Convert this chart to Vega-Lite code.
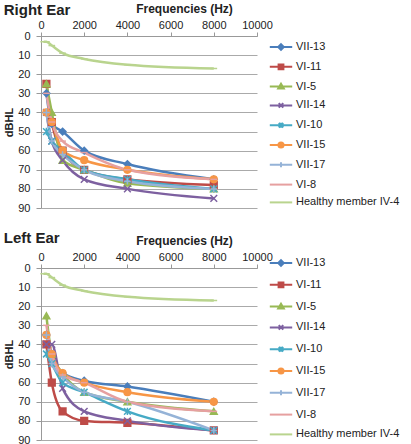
{
  "$schema": "https://vega.github.io/schema/vega-lite/v6.json",
  "padding": {"left": 3, "top": 2, "right": 0, "bottom": 0},
  "background": "white",
  "config": {
    "font": "Liberation Sans",
    "view": {"stroke": null},
    "axis": {"labelFont": "Liberation Sans", "labelFontSize": 11, "labelColor": "#222", "domainColor": "#999", "tickColor": "#999", "gridColor": "#aaa", "titleFont": "Liberation Sans", "titleFontSize": 12, "titleFontWeight": "bold", "titleColor": "#222"},
    "legend": {"labelFont": "Liberation Sans", "labelFontSize": 11, "labelColor": "#222", "symbolSize": 256, "labelOffset": 6, "padding": 0, "symbolStrokeWidth": 2},
    "title": {"font": "Liberation Sans", "fontSize": 15, "fontWeight": "bold", "color": "#222"}
  },
  "data": {"values": [
    {"ear": "R", "series": "VII-13", "freq": 250, "db": 30}, {"ear": "R", "series": "VII-13", "freq": 500, "db": 46}, {"ear": "R", "series": "VII-13", "freq": 1000, "db": 50}, {"ear": "R", "series": "VII-13", "freq": 2000, "db": 60}, {"ear": "R", "series": "VII-13", "freq": 4000, "db": 67}, {"ear": "R", "series": "VII-13", "freq": 8000, "db": 75},
    {"ear": "R", "series": "VI-11", "freq": 250, "db": 25}, {"ear": "R", "series": "VI-11", "freq": 500, "db": 45}, {"ear": "R", "series": "VI-11", "freq": 1000, "db": 60}, {"ear": "R", "series": "VI-11", "freq": 2000, "db": 70}, {"ear": "R", "series": "VI-11", "freq": 4000, "db": 75}, {"ear": "R", "series": "VI-11", "freq": 8000, "db": 78},
    {"ear": "R", "series": "VI-5", "freq": 250, "db": 25}, {"ear": "R", "series": "VI-5", "freq": 500, "db": 40}, {"ear": "R", "series": "VI-5", "freq": 1000, "db": 65}, {"ear": "R", "series": "VI-5", "freq": 2000, "db": 70}, {"ear": "R", "series": "VI-5", "freq": 4000, "db": 77}, {"ear": "R", "series": "VI-5", "freq": 8000, "db": 80},
    {"ear": "R", "series": "VII-14", "freq": 250, "db": 40}, {"ear": "R", "series": "VII-14", "freq": 500, "db": 55}, {"ear": "R", "series": "VII-14", "freq": 1000, "db": 65}, {"ear": "R", "series": "VII-14", "freq": 2000, "db": 75}, {"ear": "R", "series": "VII-14", "freq": 4000, "db": 80}, {"ear": "R", "series": "VII-14", "freq": 8000, "db": 85},
    {"ear": "R", "series": "VI-10", "freq": 250, "db": 50}, {"ear": "R", "series": "VI-10", "freq": 500, "db": 55}, {"ear": "R", "series": "VI-10", "freq": 1000, "db": 60}, {"ear": "R", "series": "VI-10", "freq": 2000, "db": 70}, {"ear": "R", "series": "VI-10", "freq": 4000, "db": 75}, {"ear": "R", "series": "VI-10", "freq": 8000, "db": 80},
    {"ear": "R", "series": "VII-15", "freq": 250, "db": 40}, {"ear": "R", "series": "VII-15", "freq": 500, "db": 45}, {"ear": "R", "series": "VII-15", "freq": 1000, "db": 60}, {"ear": "R", "series": "VII-15", "freq": 2000, "db": 65}, {"ear": "R", "series": "VII-15", "freq": 4000, "db": 70}, {"ear": "R", "series": "VII-15", "freq": 8000, "db": 75},
    {"ear": "R", "series": "VII-17", "freq": 250, "db": 40}, {"ear": "R", "series": "VII-17", "freq": 500, "db": 55}, {"ear": "R", "series": "VII-17", "freq": 1000, "db": 62}, {"ear": "R", "series": "VII-17", "freq": 2000, "db": 70}, {"ear": "R", "series": "VII-17", "freq": 4000, "db": 76}, {"ear": "R", "series": "VII-17", "freq": 8000, "db": 80},
    {"ear": "R", "series": "VI-8", "freq": 250, "db": 30}, {"ear": "R", "series": "VI-8", "freq": 500, "db": 45}, {"ear": "R", "series": "VI-8", "freq": 1000, "db": 55}, {"ear": "R", "series": "VI-8", "freq": 2000, "db": 61}, {"ear": "R", "series": "VI-8", "freq": 4000, "db": 70}, {"ear": "R", "series": "VI-8", "freq": 8000, "db": 75},
    {"ear": "R", "series": "Healthy member IV-4", "freq": 125, "db": 3}, {"ear": "R", "series": "Healthy member IV-4", "freq": 250, "db": 3}, {"ear": "R", "series": "Healthy member IV-4", "freq": 500, "db": 5}, {"ear": "R", "series": "Healthy member IV-4", "freq": 1000, "db": 9}, {"ear": "R", "series": "Healthy member IV-4", "freq": 2000, "db": 12}, {"ear": "R", "series": "Healthy member IV-4", "freq": 4000, "db": 15}, {"ear": "R", "series": "Healthy member IV-4", "freq": 8000, "db": 17},
    {"ear": "L", "series": "VII-13", "freq": 250, "db": 35}, {"ear": "L", "series": "VII-13", "freq": 500, "db": 45}, {"ear": "L", "series": "VII-13", "freq": 1000, "db": 55}, {"ear": "L", "series": "VII-13", "freq": 2000, "db": 59}, {"ear": "L", "series": "VII-13", "freq": 4000, "db": 62}, {"ear": "L", "series": "VII-13", "freq": 8000, "db": 70},
    {"ear": "L", "series": "VI-11", "freq": 250, "db": 40}, {"ear": "L", "series": "VI-11", "freq": 500, "db": 60}, {"ear": "L", "series": "VI-11", "freq": 1000, "db": 75}, {"ear": "L", "series": "VI-11", "freq": 2000, "db": 80}, {"ear": "L", "series": "VI-11", "freq": 4000, "db": 81}, {"ear": "L", "series": "VI-11", "freq": 8000, "db": 85},
    {"ear": "L", "series": "VI-5", "freq": 250, "db": 25}, {"ear": "L", "series": "VI-5", "freq": 500, "db": 45}, {"ear": "L", "series": "VI-5", "freq": 1000, "db": 55}, {"ear": "L", "series": "VI-5", "freq": 2000, "db": 65}, {"ear": "L", "series": "VI-5", "freq": 4000, "db": 70}, {"ear": "L", "series": "VI-5", "freq": 8000, "db": 75},
    {"ear": "L", "series": "VII-14", "freq": 250, "db": 40}, {"ear": "L", "series": "VII-14", "freq": 500, "db": 40}, {"ear": "L", "series": "VII-14", "freq": 1000, "db": 63}, {"ear": "L", "series": "VII-14", "freq": 2000, "db": 75}, {"ear": "L", "series": "VII-14", "freq": 4000, "db": 80}, {"ear": "L", "series": "VII-14", "freq": 8000, "db": 85},
    {"ear": "L", "series": "VI-10", "freq": 250, "db": 45}, {"ear": "L", "series": "VI-10", "freq": 500, "db": 50}, {"ear": "L", "series": "VI-10", "freq": 1000, "db": 60}, {"ear": "L", "series": "VI-10", "freq": 2000, "db": 65}, {"ear": "L", "series": "VI-10", "freq": 4000, "db": 75}, {"ear": "L", "series": "VI-10", "freq": 8000, "db": 85},
    {"ear": "L", "series": "VII-15", "freq": 250, "db": 35}, {"ear": "L", "series": "VII-15", "freq": 500, "db": 45}, {"ear": "L", "series": "VII-15", "freq": 1000, "db": 55}, {"ear": "L", "series": "VII-15", "freq": 2000, "db": 60}, {"ear": "L", "series": "VII-15", "freq": 4000, "db": 65}, {"ear": "L", "series": "VII-15", "freq": 8000, "db": 70},
    {"ear": "L", "series": "VII-17", "freq": 250, "db": 35}, {"ear": "L", "series": "VII-17", "freq": 500, "db": 50}, {"ear": "L", "series": "VII-17", "freq": 1000, "db": 57}, {"ear": "L", "series": "VII-17", "freq": 2000, "db": 65}, {"ear": "L", "series": "VII-17", "freq": 4000, "db": 70}, {"ear": "L", "series": "VII-17", "freq": 8000, "db": 85},
    {"ear": "L", "series": "VI-8", "freq": 250, "db": 30}, {"ear": "L", "series": "VI-8", "freq": 500, "db": 45}, {"ear": "L", "series": "VI-8", "freq": 1000, "db": 56}, {"ear": "L", "series": "VI-8", "freq": 2000, "db": 60}, {"ear": "L", "series": "VI-8", "freq": 4000, "db": 70}, {"ear": "L", "series": "VI-8", "freq": 8000, "db": 75},
    {"ear": "L", "series": "Healthy member IV-4", "freq": 125, "db": 3}, {"ear": "L", "series": "Healthy member IV-4", "freq": 250, "db": 3}, {"ear": "L", "series": "Healthy member IV-4", "freq": 500, "db": 5}, {"ear": "L", "series": "Healthy member IV-4", "freq": 1000, "db": 9}, {"ear": "L", "series": "Healthy member IV-4", "freq": 2000, "db": 12}, {"ear": "L", "series": "Healthy member IV-4", "freq": 4000, "db": 15}, {"ear": "L", "series": "Healthy member IV-4", "freq": 8000, "db": 17}
  ]},
  "spacing": 18,
  "resolve": {"legend": {"color": "independent"}},
  "vconcat": [
    {
      "title": {"text": "Right Ear", "anchor": "start", "frame": "bounds", "offset": -16},
      "width": 216, "height": 172,
      "transform": [{"filter": "datum.ear === 'R'"}],
      "encoding": {
        "x": {"field": "freq", "type": "quantitative", "scale": {"domain": [0, 10000], "nice": false}, "axis": {"orient": "top", "values": [0, 2000, 4000, 6000, 8000, 10000], "format": "d", "labelOverlap": false, "labelFlush": false, "labelBound": false, "grid": false, "tickSize": 4, "labelPadding": 2, "title": "Frequencies (Hz)", "titleX": 143, "titleY": -28, "titleAlign": "center", "titleBaseline": "middle"}},
        "y": {"field": "db", "type": "quantitative", "scale": {"domain": [0, 90], "reverse": true, "nice": false}, "axis": {"values": [0, 10, 20, 30, 40, 50, 60, 70, 80, 90], "tickSize": 5, "labelPadding": 6, "title": "dBHL", "titleFontSize": 11, "titlePadding": 3}},
        "color": {"field": "series", "type": "nominal",
          "scale": {"domain": ["VII-13", "VI-11", "VI-5", "VII-14", "VI-10", "VII-15", "VII-17", "VI-8", "Healthy member IV-4"], "range": ["#4A7EBB", "#BE4B48", "#98B954", "#7D60A0", "#46AAC5", "#F79646", "#95B3D7", "#E6A0A0", "#B9D48E"]},
          "legend": {"title": null, "orient": "none", "legendX": 231, "legendY": 2, "rowPadding": 3.8,
            "encode": {"symbols": {"update": {
              "shape": {"signal": "['M-1.4,0L1.4,0M0,-0.35L0.35,0L0,0.35L-0.35,0Z','M-1.4,0L1.4,0M-0.3,-0.3L0.3,-0.3L0.3,0.3L-0.3,0.3Z','M-1.4,0L1.4,0M0,-0.35L0.35,0.25L-0.35,0.25Z','M-1.4,0L1.4,0M-0.28,-0.28L0.28,0.28M-0.28,0.28L0.28,-0.28','M-1.4,0L1.4,0M-0.28,-0.28L0.28,0.28M-0.28,0.28L0.28,-0.28M0,-0.32L0,0.32','M-1.4,0L1.4,0M-0.32,0A0.32,0.32 0 1,0 0.32,0A0.32,0.32 0 1,0 -0.32,0Z','M-1.4,0L1.4,0M0,-0.32L0,0.32','M-1.4,0L1.4,0','M-1.4,0L1.4,0'][indexof(['VII-13','VI-11','VI-5','VII-14','VI-10','VII-15','VII-17','VI-8','Healthy member IV-4'], datum.value)]"},
              "fill": {"signal": "['#4A7EBB','#BE4B48','#98B954','#7D60A0','#46AAC5','#F79646','#95B3D7','#E6A0A0','#B9D48E'][indexof(['VII-13','VI-11','VI-5','VII-14','VI-10','VII-15','VII-17','VI-8','Healthy member IV-4'], datum.value)]"},
              "stroke": {"signal": "['#4A7EBB','#BE4B48','#98B954','#7D60A0','#46AAC5','#F79646','#95B3D7','#E6A0A0','#B9D48E'][indexof(['VII-13','VI-11','VI-5','VII-14','VI-10','VII-15','VII-17','VI-8','Healthy member IV-4'], datum.value)]"},
              "strokeWidth": {"value": 2},
              "opacity": {"value": 1}
            }}}
          }
        }
      },
      "layer": [
        {"mark": {"type": "line", "interpolate": "monotone", "strokeWidth": 2.5}},
        {"mark": {"type": "point", "filled": true, "size": 45, "strokeWidth": 1.5, "opacity": 1},
         "encoding": {
           "shape": {"field": "series", "type": "nominal", "legend": null, "scale": {"domain": ["VII-13", "VI-11", "VI-5", "VII-14", "VI-10", "VII-15", "VII-17", "VI-8", "Healthy member IV-4"], "range": ["diamond", "square", "triangle-up", "M-1,-1L1,1M-1,1L1,-1", "M-1,-1L1,1M-1,1L1,-1M0,-1.1L0,1.1", "circle", "M-1,0L1,0M0,-1L0,1", "M-1,0L1,0", "M-1,0L1,0"]}},
           "stroke": {"field": "series", "type": "nominal", "legend": null, "scale": {"domain": ["VII-13", "VI-11", "VI-5", "VII-14", "VI-10", "VII-15", "VII-17", "VI-8", "Healthy member IV-4"], "range": ["#4A7EBB", "#BE4B48", "#98B954", "#7D60A0", "#46AAC5", "#F79646", "#95B3D7", "#E6A0A0", "#B9D48E"]}}
         }}
      ]
    },
    {
      "title": {"text": "Left Ear", "anchor": "start", "frame": "bounds", "offset": -12},
      "width": 216, "height": 172,
      "transform": [{"filter": "datum.ear === 'L'"}],
      "encoding": {
        "x": {"field": "freq", "type": "quantitative", "scale": {"domain": [0, 10000], "nice": false}, "axis": {"orient": "top", "values": [0, 2000, 4000, 6000, 8000, 10000], "format": "d", "labelOverlap": false, "labelFlush": false, "labelBound": false, "grid": false, "tickSize": 4, "labelPadding": 2, "title": "Frequencies (Hz)", "titleX": 143, "titleY": -28, "titleAlign": "center", "titleBaseline": "middle"}},
        "y": {"field": "db", "type": "quantitative", "scale": {"domain": [0, 90], "reverse": true, "nice": false}, "axis": {"values": [0, 10, 20, 30, 40, 50, 60, 70, 80, 90], "tickSize": 5, "labelPadding": 6, "title": "dBHL", "titleFontSize": 11, "titlePadding": 3}},
        "color": {"field": "series", "type": "nominal",
          "scale": {"domain": ["VII-13", "VI-11", "VI-5", "VII-14", "VI-10", "VII-15", "VII-17", "VI-8", "Healthy member IV-4"], "range": ["#4A7EBB", "#BE4B48", "#98B954", "#7D60A0", "#46AAC5", "#F79646", "#95B3D7", "#E6A0A0", "#B9D48E"]},
          "legend": {"title": null, "orient": "none", "legendX": 231, "legendY": -14, "rowPadding": 5.8,
            "encode": {"symbols": {"update": {
              "shape": {"signal": "['M-1.4,0L1.4,0M0,-0.35L0.35,0L0,0.35L-0.35,0Z','M-1.4,0L1.4,0M-0.3,-0.3L0.3,-0.3L0.3,0.3L-0.3,0.3Z','M-1.4,0L1.4,0M0,-0.35L0.35,0.25L-0.35,0.25Z','M-1.4,0L1.4,0M-0.28,-0.28L0.28,0.28M-0.28,0.28L0.28,-0.28','M-1.4,0L1.4,0M-0.28,-0.28L0.28,0.28M-0.28,0.28L0.28,-0.28M0,-0.32L0,0.32','M-1.4,0L1.4,0M-0.32,0A0.32,0.32 0 1,0 0.32,0A0.32,0.32 0 1,0 -0.32,0Z','M-1.4,0L1.4,0M0,-0.32L0,0.32','M-1.4,0L1.4,0','M-1.4,0L1.4,0'][indexof(['VII-13','VI-11','VI-5','VII-14','VI-10','VII-15','VII-17','VI-8','Healthy member IV-4'], datum.value)]"},
              "fill": {"signal": "['#4A7EBB','#BE4B48','#98B954','#7D60A0','#46AAC5','#F79646','#95B3D7','#E6A0A0','#B9D48E'][indexof(['VII-13','VI-11','VI-5','VII-14','VI-10','VII-15','VII-17','VI-8','Healthy member IV-4'], datum.value)]"},
              "stroke": {"signal": "['#4A7EBB','#BE4B48','#98B954','#7D60A0','#46AAC5','#F79646','#95B3D7','#E6A0A0','#B9D48E'][indexof(['VII-13','VI-11','VI-5','VII-14','VI-10','VII-15','VII-17','VI-8','Healthy member IV-4'], datum.value)]"},
              "strokeWidth": {"value": 2},
              "opacity": {"value": 1}
            }}}
          }
        }
      },
      "layer": [
        {"mark": {"type": "line", "interpolate": "monotone", "strokeWidth": 2.5}},
        {"mark": {"type": "point", "filled": true, "size": 45, "strokeWidth": 1.5, "opacity": 1},
         "encoding": {
           "shape": {"field": "series", "type": "nominal", "legend": null, "scale": {"domain": ["VII-13", "VI-11", "VI-5", "VII-14", "VI-10", "VII-15", "VII-17", "VI-8", "Healthy member IV-4"], "range": ["diamond", "square", "triangle-up", "M-1,-1L1,1M-1,1L1,-1", "M-1,-1L1,1M-1,1L1,-1M0,-1.1L0,1.1", "circle", "M-1,0L1,0M0,-1L0,1", "M-1,0L1,0", "M-1,0L1,0"]}},
           "stroke": {"field": "series", "type": "nominal", "legend": null, "scale": {"domain": ["VII-13", "VI-11", "VI-5", "VII-14", "VI-10", "VII-15", "VII-17", "VI-8", "Healthy member IV-4"], "range": ["#4A7EBB", "#BE4B48", "#98B954", "#7D60A0", "#46AAC5", "#F79646", "#95B3D7", "#E6A0A0", "#B9D48E"]}}
         }}
      ]
    }
  ]
}
